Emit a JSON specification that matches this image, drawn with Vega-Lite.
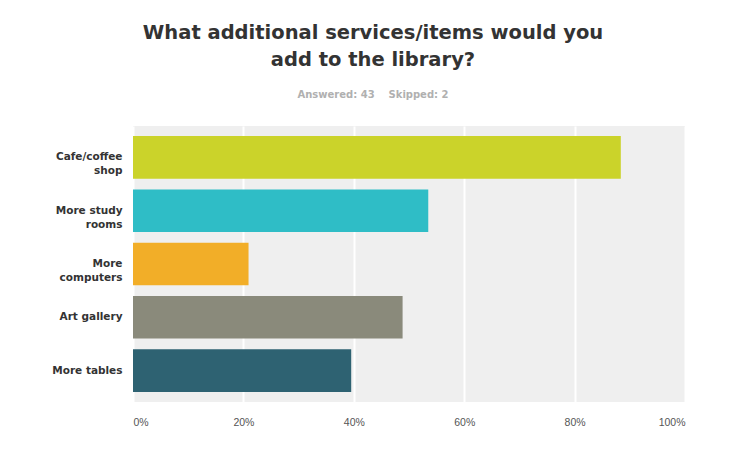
{
  "$schema": "https://vega.github.io/schema/vega-lite/v6.json",
  "autosize": "none",
  "padding": {"left": 133, "top": 126, "right": 56, "bottom": 68},
  "width": 552,
  "height": 276,
  "background": "white",
  "title": {
    "text": ["What additional services/items would you", "add to the library?"],
    "subtitle": "Answered: 43\u00a0\u00a0\u00a0\u00a0Skipped: 2",
    "anchor": "middle",
    "dx": -36,
    "offset": 25,
    "font": "DejaVu Sans",
    "fontSize": 19.5,
    "fontWeight": "bold",
    "color": "#333333",
    "lineHeight": 27,
    "subtitleFont": "DejaVu Sans",
    "subtitleFontSize": 10,
    "subtitleFontWeight": "bold",
    "subtitleColor": "#b0b0b0",
    "subtitlePadding": 20
  },
  "data": {
    "values": [
      {"item": "Cafe/coffee shop", "pct": 0.8837},
      {"item": "More study rooms", "pct": 0.5349},
      {"item": "More computers", "pct": 0.2093},
      {"item": "Art gallery", "pct": 0.4884},
      {"item": "More tables", "pct": 0.3953}
    ]
  },
  "mark": {"type": "bar"},
  "encoding": {
    "y": {
      "field": "item",
      "type": "nominal",
      "sort": null,
      "scale": {"paddingInner": 0.2, "paddingOuter": 0.19},
      "axis": {
        "title": null,
        "ticks": false,
        "domain": false,
        "labelPadding": 11,
        "labelFont": "DejaVu Sans",
        "labelFontSize": 10.5,
        "labelFontWeight": "bold",
        "labelColor": "#333333",
        "labelLineHeight": 14,
        "labelExpr": "datum.value == 'Cafe/coffee shop' ? ['Cafe/coffee', 'shop'] : datum.value == 'More study rooms' ? ['More study', 'rooms'] : datum.value == 'More computers' ? ['More', 'computers'] : datum.value"
      }
    },
    "x": {
      "field": "pct",
      "type": "quantitative",
      "scale": {"domain": [0, 1], "nice": false},
      "axis": {
        "title": null,
        "format": ".0%",
        "values": [0, 0.2, 0.4, 0.6, 0.8, 1],
        "ticks": false,
        "domain": false,
        "labelFlush": true,
        "labelPadding": 15,
        "labelFont": "Liberation Sans",
        "labelFontSize": 10.5,
        "labelColor": "#555555",
        "grid": true,
        "gridColor": "#ffffff",
        "gridWidth": 2
      }
    },
    "color": {
      "field": "item",
      "type": "nominal",
      "legend": null,
      "scale": {
        "domain": ["Cafe/coffee shop", "More study rooms", "More computers", "Art gallery", "More tables"],
        "range": ["#cbd32a", "#2fbdc6", "#f2ae28", "#8a8a7b", "#2e6272"]
      }
    }
  },
  "config": {
    "view": {"fill": "#efefef", "stroke": null}
  }
}
